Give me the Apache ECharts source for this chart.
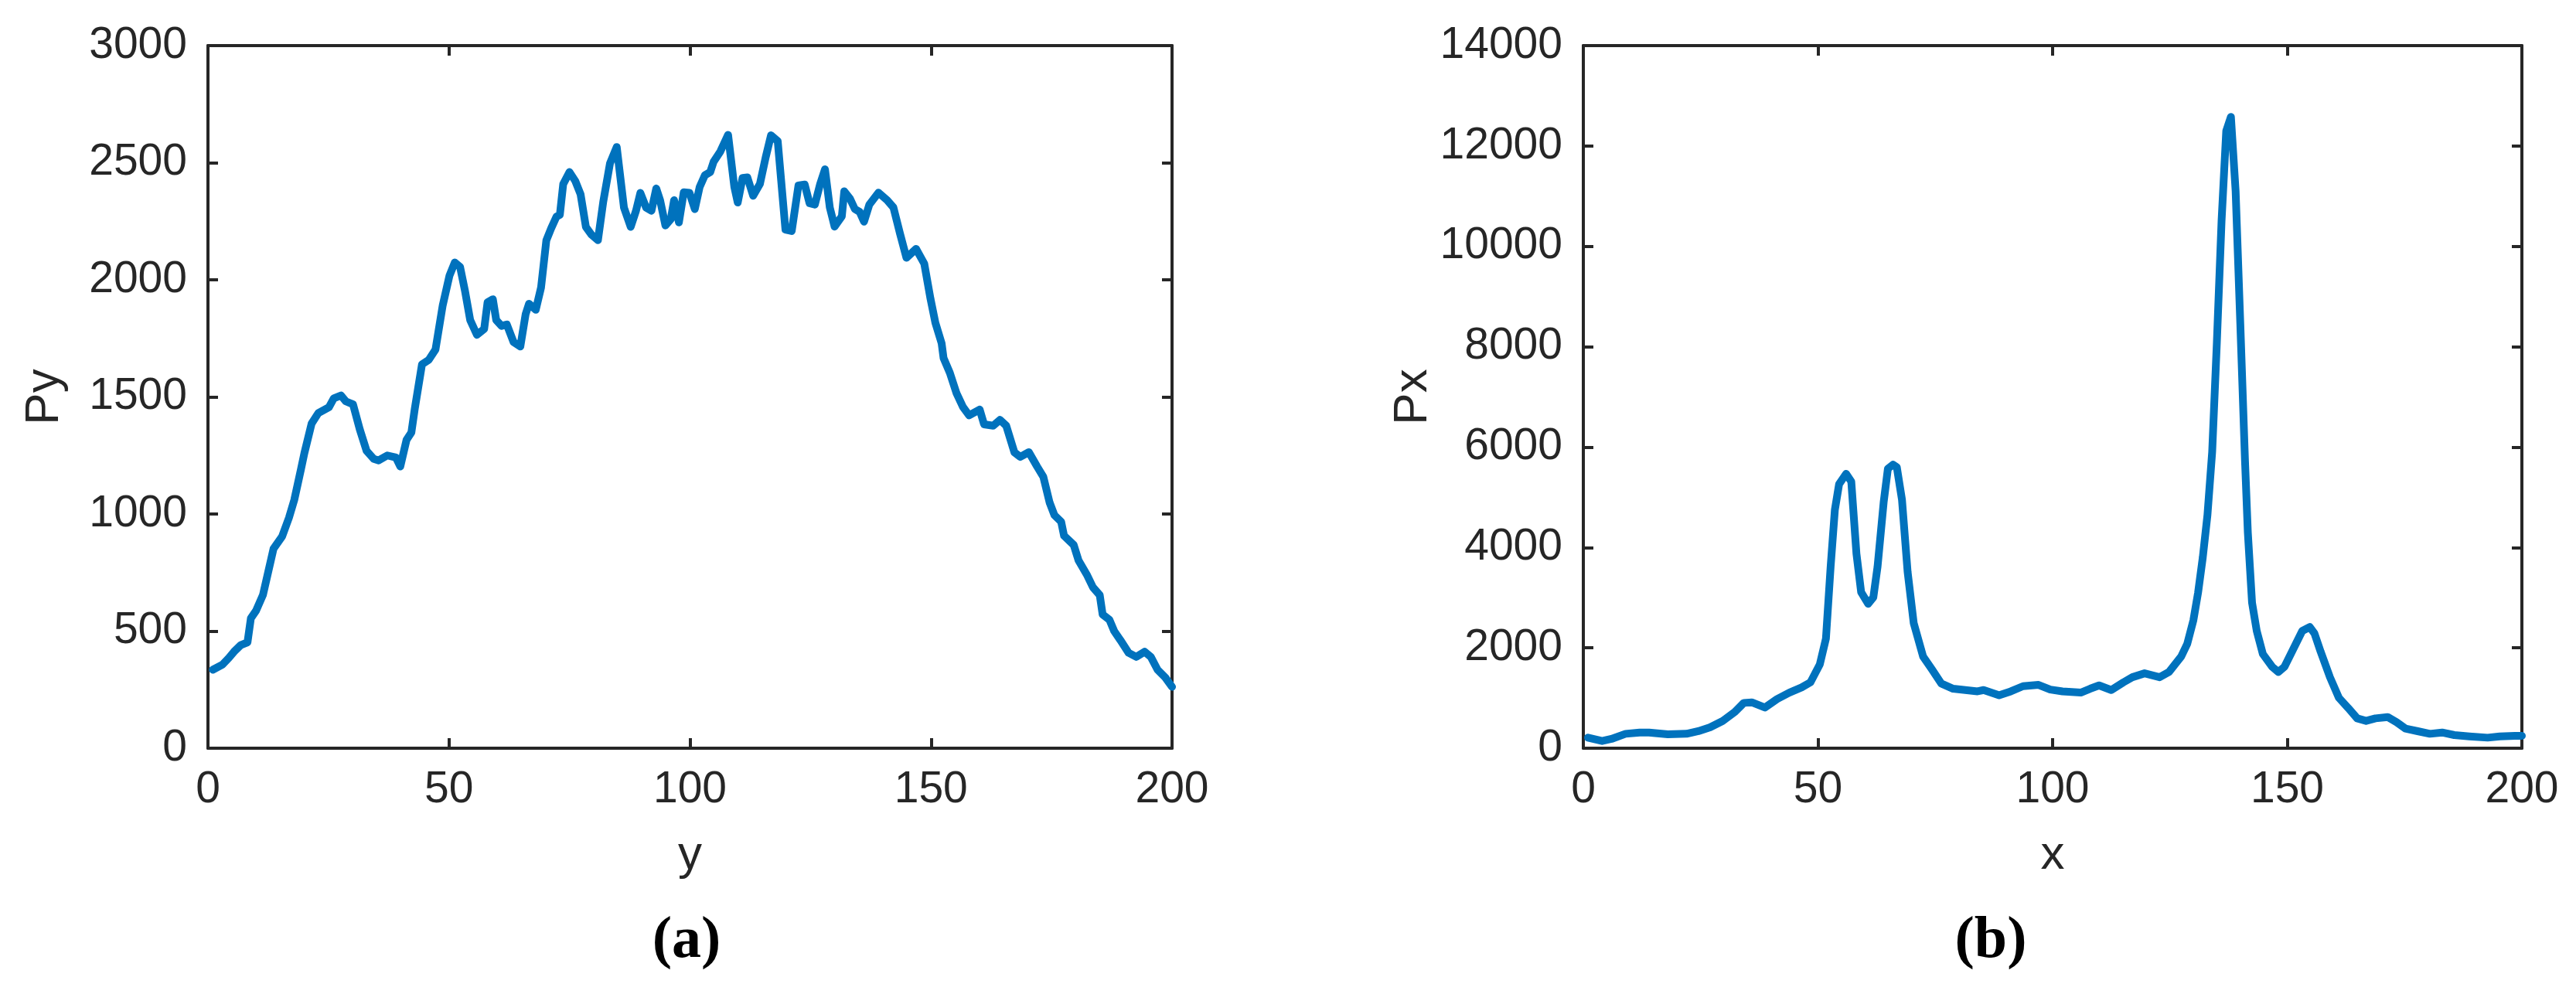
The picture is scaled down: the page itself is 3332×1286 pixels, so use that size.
<!DOCTYPE html>
<html>
<head>
<meta charset="utf-8">
<title>Py / Px profiles</title>
<script src="https://cdn.jsdelivr.net/npm/echarts@6/dist/echarts.min.js"></script>
<style>
  html, body { margin: 0; padding: 0; background: #fff; }
  #chart { width: 3332px; height: 1286px; }
</style>
</head>
<body>
<div id="chart"></div>
<script>
  // (a) profile along y
  var ayPos = [
    1, 3, 4.3, 5.4, 6.8, 8.2, 8.9, 10, 11.4, 12.5,
    13.6, 15.4, 16.8, 17.9, 19.3, 20, 21.5, 22.9, 25.1, 26.1,
    27.6, 28.6, 30.1, 31.5, 32.9, 34.4, 35.4, 37.2, 39, 39.9,
    41.2, 42.2, 42.9, 44.4, 45.8, 47.2, 48.7, 50.1, 51.2, 52.3,
    53.3, 54.4, 55.8, 57.3, 58, 59.1, 59.8, 60.9, 62, 63.4,
    64.8, 65.9, 66.6, 68, 69.1, 70.2, 71.2, 72.3, 73, 73.7,
    75, 76.2, 77.3, 78.4, 79.5, 80.9, 82, 83.4, 84.8, 86.3,
    87.7, 88.8, 89.7, 90.9, 92, 93, 93.8, 94.9, 96, 96.7,
    97.7, 98.7, 99.9, 101, 102, 103.1, 104.2, 104.9, 106.3, 107.9,
    109.2, 109.9, 110.9, 111.9, 113.1, 114.5, 115.7, 116.8, 118.2, 119.8,
    121.1, 122.5, 123.8, 124.8, 125.9, 127, 128, 129, 130, 131.5,
    132, 133.2, 134.2, 135.2, 136.1, 137.2, 139.1, 140.9, 142.2, 143.6,
    144.9, 146.9, 148.6, 149.9, 150.9, 152.2, 152.6, 153.9, 155.3, 156.6,
    157.9, 160.1, 161, 162.9, 164.3, 165.6, 167.3, 168.5, 170.3, 172,
    173.3, 174.6, 175.6, 177, 177.6, 179.6, 180.6, 182.3, 183.6, 185,
    185.6, 187, 188, 189.3, 191, 192.6, 194.3, 195.6, 197, 198.6,
    200
  ];
  var pyVals = [
    335, 357, 385, 412, 440, 452, 555, 588, 654, 753,
    852, 905, 984, 1060, 1192, 1260, 1386, 1431, 1456, 1494,
    1506, 1481, 1468, 1361, 1270, 1235, 1229, 1250, 1241, 1203,
    1317, 1348, 1449, 1639, 1658, 1702, 1891, 2018, 2074, 2055,
    1955, 1828, 1765, 1790, 1904, 1917, 1828, 1803, 1809, 1734,
    1715, 1853, 1898, 1872, 1967, 2169, 2220, 2270, 2277, 2409,
    2460, 2422, 2365, 2226, 2194, 2169, 2333, 2497, 2567, 2308,
    2226, 2295, 2371, 2308, 2295, 2390, 2340, 2232, 2258, 2340,
    2245, 2374, 2371, 2302, 2396, 2447, 2460, 2504, 2548, 2619,
    2396, 2330, 2435, 2437, 2359, 2409, 2523, 2617, 2592, 2214,
    2208, 2403, 2407, 2327, 2321, 2409, 2472, 2309, 2227, 2271,
    2378, 2346, 2302, 2290, 2248, 2321, 2372, 2340, 2309, 2195,
    2094, 2132, 2069, 1918, 1817, 1729, 1666, 1603, 1515, 1458,
    1421, 1446, 1383, 1377, 1402, 1377, 1263, 1244, 1264, 1203,
    1159, 1049, 995, 967, 907, 868, 802, 742, 687, 654,
    571, 549, 500, 461, 407, 390, 412, 390, 335, 302,
    262
  ];

  // (b) profile along x
  var bxPos = [
    1, 4, 6, 9, 12, 14, 18, 22, 24.5, 27,
    29.7, 32.3, 34.2, 35.9, 38.7, 41.3, 43.9, 46.5, 48.4, 50.4,
    51.7, 52.7, 53.6, 54.5, 56, 57.1, 58.2, 59.2, 60.7, 61.8,
    62.7, 64, 64.9, 66, 66.8, 67.9, 69.1, 70.4, 72.4, 74.3,
    76.3, 78.8, 81.4, 84, 85.3, 88.6, 91.1, 93.7, 97, 99.5,
    102.1, 106, 108, 109.9, 112.5, 115.1, 117, 119.6, 122.8, 124.8,
    127.4, 128.7, 130, 131, 132, 133, 134, 135, 136, 137,
    138, 139, 140, 141, 141.6, 142.5, 143.5, 144.8, 146.8, 148.1,
    149.4, 151.3, 153.2, 154.8, 155.8, 157.1, 159.1, 161, 163, 164.9,
    166.8, 168.8, 171.4, 173.3, 175.2, 177.8, 180.4, 183, 185.6, 188.8,
    192.7, 195.3, 198.5, 200
  ];
  var pxVals = [
    210, 144, 185, 287, 313, 313, 277, 287, 339, 415,
    544, 723, 903, 913, 810, 980, 1108, 1210, 1313, 1672,
    2185, 3620, 4749, 5261, 5467, 5313, 3877, 3108, 2877, 3005,
    3620, 4902, 5569, 5650, 5600, 4954, 3518, 2492, 1826, 1569,
    1287, 1185, 1159, 1133, 1159, 1056, 1133, 1236, 1262, 1169,
    1133, 1108, 1185, 1251, 1159, 1313, 1415, 1492, 1415, 1518,
    1826, 2082, 2550, 3100, 3800, 4650, 5900, 8084, 10500, 12300,
    12580, 11100, 8450, 5724, 4300, 2900, 2338, 1877, 1621, 1518,
    1621, 1980, 2338, 2415, 2287, 1928, 1415, 1005, 800, 595,
    544, 595, 621, 518, 390, 339, 287, 313, 262, 236,
    210, 236, 246, 246
  ];

  var xTicks = [0, 50, 100, 150, 200];
  var pyTicks = [0, 500, 1000, 1500, 2000, 2500, 3000];
  var pxTicks = [0, 2000, 4000, 6000, 8000, 10000, 12000, 14000];

  var ink = '#262626';
  var blue = '#0072BD';
  var sans = 'Liberation Sans';

  function pairs(xs, ys) {
    return xs.map(function (x, i) { return [x, ys[i]]; });
  }

  // one plain axis; labelled ones carry numbers + name, the others only ticks
  function axis(grid, pos, ticks, name, labelled) {
    var step = ticks[1] - ticks[0];
    var a = {
      type: 'value',
      gridIndex: grid,
      position: pos,
      min: ticks[0],
      max: ticks[ticks.length - 1],
      interval: step,
      splitLine: { show: false },
      axisLine: { show: true, onZero: false, lineStyle: { color: ink, width: 4 } },
      axisTick: { show: true, inside: true, length: 13, lineStyle: { color: ink, width: 4 } },
      axisLabel: {
        show: labelled,
        color: ink,
        fontSize: 57,
        fontFamily: sans,
        margin: (pos === 'bottom') ? 26 : 27,
        showMinLabel: true,
        showMaxLabel: true,
        hideOverlap: false,
        formatter: function (v) { return String(v); }
      }
    };
    if (labelled) {
      a.name = name;
      a.nameLocation = 'middle';
      a.nameGap = (pos === 'bottom') ? 108 : 180;
      a.nameTextStyle = { color: ink, fontSize: 62, fontFamily: sans };
    }
    return a;
  }

  var chart = echarts.init(document.getElementById('chart'), null, { renderer: 'canvas' });

  var option = {
    backgroundColor: '#ffffff',
    animation: false,
    grid: [
      { left: 269, top: 59, width: 1247, height: 909, containLabel: false, outerBoundsMode: 'none' },
      { left: 2048, top: 59, width: 1214, height: 909, containLabel: false, outerBoundsMode: 'none' }
    ],
    xAxis: [
      axis(0, 'bottom', xTicks, 'y', true),
      axis(0, 'top', xTicks, '', false),
      axis(1, 'bottom', xTicks, 'x', true),
      axis(1, 'top', xTicks, '', false)
    ],
    yAxis: [
      axis(0, 'left', pyTicks, 'Py', true),
      axis(0, 'right', pyTicks, '', false),
      axis(1, 'left', pxTicks, 'Px', true),
      axis(1, 'right', pxTicks, '', false)
    ],
    series: [
      {
        type: 'line',
        xAxisIndex: 0,
        yAxisIndex: 0,
        data: pairs(ayPos, pyVals),
        showSymbol: false,
        lineStyle: { color: blue, width: 10, join: 'round', cap: 'round' }
      },
      {
        type: 'line',
        xAxisIndex: 2,
        yAxisIndex: 2,
        data: pairs(bxPos, pxVals),
        showSymbol: false,
        lineStyle: { color: blue, width: 10, join: 'round', cap: 'round' }
      }
    ],
    graphic: [
      {
        type: 'text', x: 888, y: 1218,
        style: { text: '(a)', fill: '#000', font: 'bold 76px "Liberation Serif"', textAlign: 'center', textVerticalAlign: 'middle' }
      },
      {
        type: 'text', x: 2575, y: 1218,
        style: { text: '(b)', fill: '#000', font: 'bold 76px "Liberation Serif"', textAlign: 'center', textVerticalAlign: 'middle' }
      }
    ]
  };

  chart.setOption(option);
</script>
</body>
</html>
